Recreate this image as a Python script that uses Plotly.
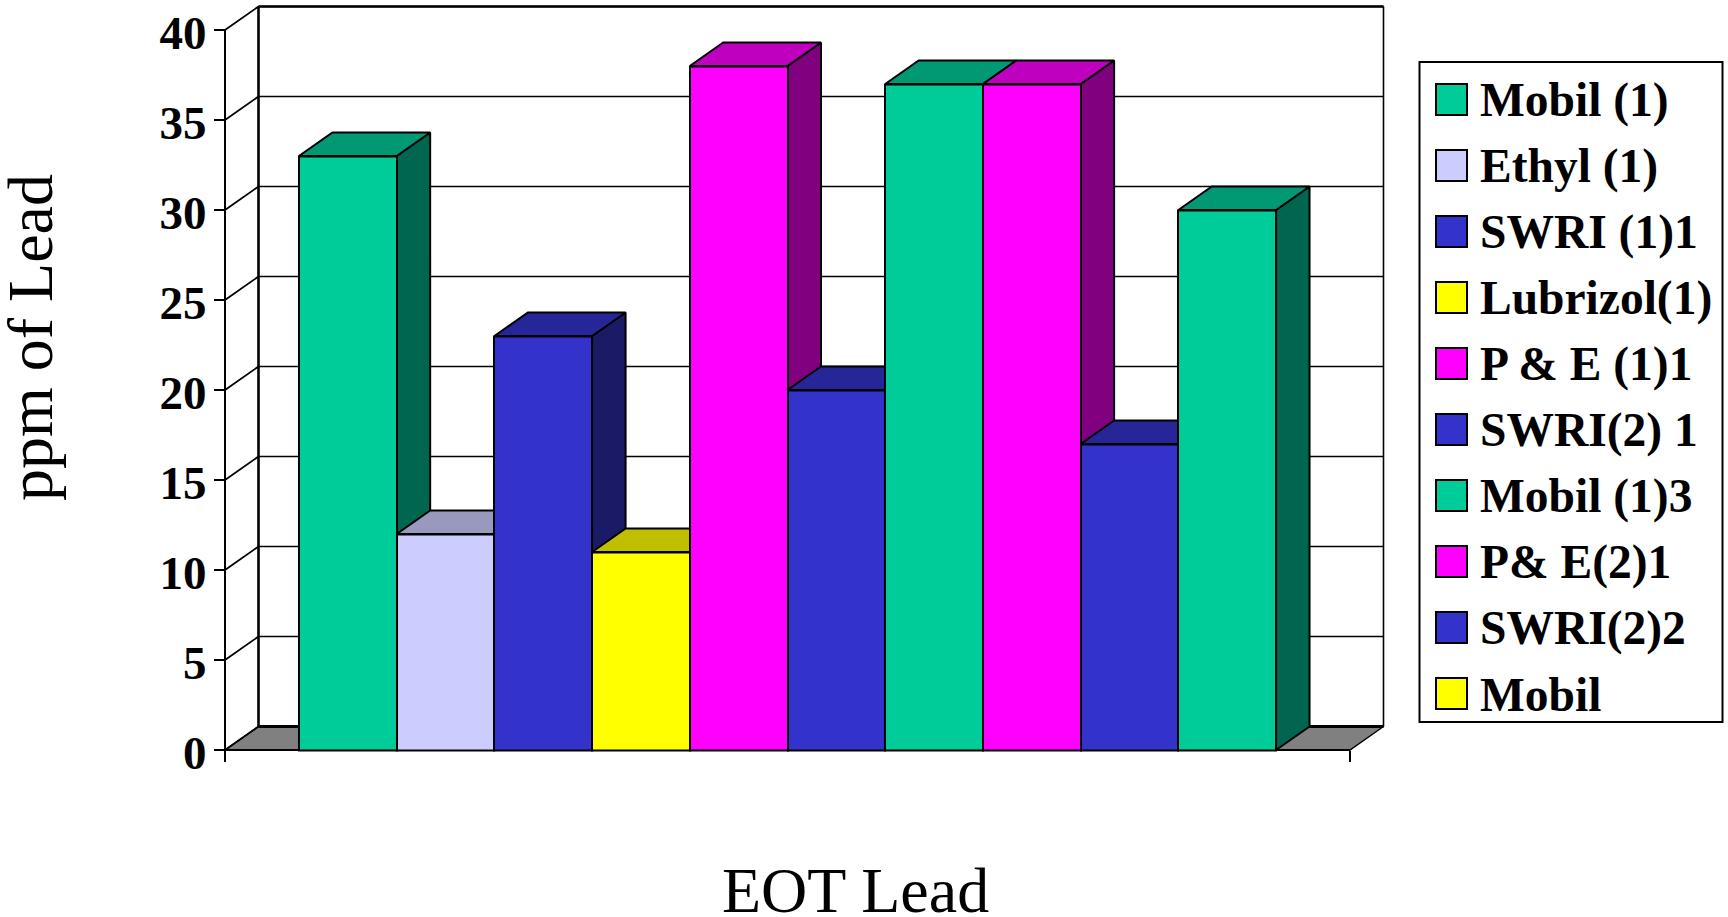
import plotly.graph_objects as go

W, H = 1728, 917
FONT = "Liberation Serif"

# ---- data
bar_values = [33, 12, 23, 11, 38, 20, 37, 37, 17, 30]
bar_colors = ["#00CC99", "#CCCCFF", "#3333CC", "#FFFF00", "#FF00FF",
              "#3333CC", "#00CC99", "#FF00FF", "#3333CC", "#00CC99"]
bar_top_colors = ["#009973", "#9999BF", "#262699", "#BFBF00", "#BF00BF",
                  "#262699", "#009973", "#BF00BF", "#262699", "#009973"]
bar_side_colors = ["#006650", "#666680", "#1A1A66", "#808000", "#800080",
                   "#1A1A66", "#006650", "#800080", "#1A1A66", "#006650"]
legend_names = ["Mobil (1)", "Ethyl (1)", "SWRI (1)1", "Lubrizol(1)", "P & E (1)1",
                "SWRI(2) 1", "Mobil (1)3", "P& E(2)1", "SWRI(2)2", "Mobil"]
legend_colors = ["#00CC99", "#CCCCFF", "#3333CC", "#FFFF00", "#FF00FF",
                 "#3333CC", "#00CC99", "#FF00FF", "#3333CC", "#FFFF00"]
y_ticks = [0, 5, 10, 15, 20, 25, 30, 35, 40]

# ---- layout constants
PX_L, PX_R, PX_T, PX_B = 225, 1350, 30, 750      # front plane of the plot
DEPTH_X, DEPTH_Y, PAD = 33.5, 23.5, 5             # pixels
x0, x1 = -1.257, 10.257
y0, y1 = 0, 40
XU = (PX_R - PX_L) / (x1 - x0)                    # pixels per x unit
YU = (PX_B - PX_T) / (y1 - y0)                    # pixels per y unit
DX, DY = DEPTH_X / XU, DEPTH_Y / YU
# the axes span the full box, depth included, so nothing needs to leave the plot area
X_RANGE = [x0 - PAD / XU, x1 + DX + PAD / XU]
Y_RANGE = [y0 - PAD / YU, y1 + DY + PAD / YU]
xdom = [(PX_L - PAD) / W, (PX_R + DEPTH_X + PAD) / W]
ydom = [1 - (PX_B + PAD) / H, 1 - (PX_T - DEPTH_Y - PAD) / H]

fig = go.Figure()


def poly(xs, ys, fill=None, lw=2.0, color="black"):
    fig.add_trace(go.Scatter(
        x=xs, y=ys, mode="lines", hoverinfo="skip", showlegend=False,
        fill="toself" if fill else None, fillcolor=fill,
        line=dict(color=color, width=lw)))


# floor
poly([x0, x1, x1 + DX, x0 + DX, x0], [0, 0, DY, DY, 0], fill="#808080", lw=1.5)
# side-wall diagonals and back-wall gridlines
for t in y_ticks:
    poly([x0, x0 + DX], [t, t + DY], lw=1.8)
    if t:
        poly([x0 + DX, x1 + DX], [t + DY, t + DY], lw=1.6)
# wall frame
poly([x0 + DX, x0 + DX], [DY, 40 + DY], lw=2.6)
poly([x0 + DX, x1 + DX], [40 + DY, 40 + DY], lw=2.6)
poly([x1 + DX, x1 + DX], [DY, 40 + DY], lw=1.6)
poly([x0 + DX, x1 + DX], [DY, DY], lw=3)
# front axis lines
poly([x0, x0], [0, 40], lw=2)
poly([x0, x1], [0, 0], lw=2)

# side and top faces of the 3-D bars
for i, v in enumerate(bar_values):
    l, r = i - 0.5, i + 0.5
    poly([r, r + DX, r + DX, r, r], [0, DY, v + DY, v, 0], fill=bar_side_colors[i])
    poly([l, r, r + DX, l + DX, l], [v, v, v + DY, v + DY, v], fill=bar_top_colors[i])

# front faces on an overlaid pair of axes, so they sit above every depth face
fig.add_trace(go.Bar(
    x=list(range(len(bar_values))), y=bar_values, width=1,
    xaxis="x2", yaxis="y2", showlegend=False,
    marker=dict(color=bar_colors, line=dict(color="black", width=2))))

# legend box, swatches and labels
LX0, LX1, LY0, LY1 = 1419.5, 1722.5, 62, 722
shapes = [dict(type="rect", xref="paper", yref="paper",
               x0=LX0 / W, x1=LX1 / W, y0=1 - LY1 / H, y1=1 - LY0 / H,
               line=dict(color="black", width=2), fillcolor="white", layer="below")]
annotations = []
for i, (name, col) in enumerate(zip(legend_names, legend_colors)):
    cy = 99.5 + 66 * i
    shapes.append(dict(type="rect", xref="paper", yref="paper",
                       x0=1436 / W, x1=1467 / W, y0=1 - (cy + 15.5) / H, y1=1 - (cy - 15.5) / H,
                       line=dict(color="black", width=2), fillcolor=col))
    annotations.append(dict(xref="paper", yref="paper", x=1478 / W, y=1 - (cy + 1) / H,
                            text=name, showarrow=False, xanchor="left", yanchor="middle",
                            font=dict(family=FONT, size=47.5, color="black", weight=700)))

annotations.append(dict(xref="paper", yref="paper", x=855 / W, y=1 - 890 / H, text="EOT Lead",
                        showarrow=False, xanchor="center", yanchor="middle",
                        font=dict(family=FONT, size=64, color="black")))
annotations.append(dict(xref="paper", yref="paper", x=30 / W, y=1 - 338 / H, text="ppm of Lead",
                        textangle=-90, showarrow=False, xanchor="center", yanchor="middle",
                        font=dict(family=FONT, size=64, color="black")))

fig.update_layout(
    width=W, height=H, margin=dict(l=0, r=0, t=0, b=0),
    paper_bgcolor="white", plot_bgcolor="white", showlegend=False,
    shapes=shapes, annotations=annotations, bargap=0,
    xaxis=dict(domain=xdom, range=X_RANGE, showgrid=False, zeroline=False, automargin=False,
               showline=False, anchor="free", position=1 - PX_B / H,
               tickmode="array", tickvals=[x0, x1], ticktext=["", ""],
               ticks="outside", ticklen=11, tickwidth=2, tickcolor="black"),
    yaxis=dict(domain=ydom, range=Y_RANGE, showgrid=False, zeroline=False, automargin=False,
               showline=False, anchor="free", position=PX_L / W,
               tickmode="array", tickvals=y_ticks, ticktext=[str(t) for t in y_ticks],
               ticks="outside", ticklen=11, tickwidth=2, tickcolor="black",
               ticklabelshift=3, ticklabelstandoff=-2,
               tickfont=dict(family=FONT, size=47, color="black", weight=700)),
    xaxis2=dict(domain=xdom, range=X_RANGE, overlaying="x", visible=False, anchor="y2", automargin=False),
    yaxis2=dict(domain=ydom, range=Y_RANGE, overlaying="y", visible=False, anchor="x2", automargin=False),
)

fig.write_html("out.html", config={"displayModeBar": False},
               post_script="document.body.style.margin='0';document.body.style.overflow='hidden';")
